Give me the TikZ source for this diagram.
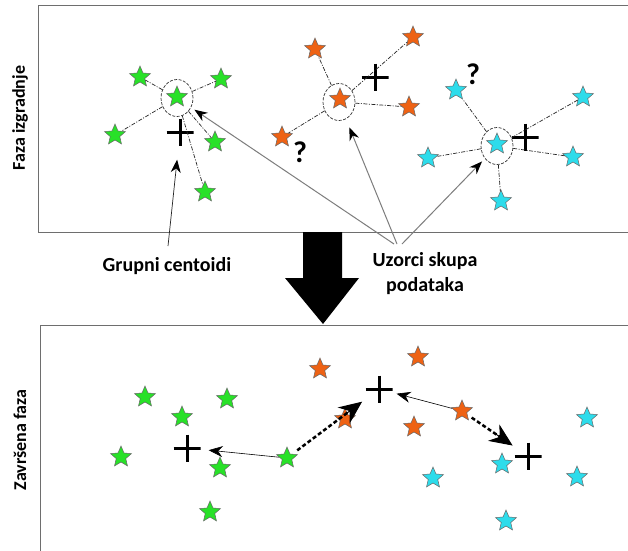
\documentclass[tikz,border=0pt]{standalone}
\usepackage{fontspec}
\setmainfont{Carlito}
\usetikzlibrary{shapes.geometric,arrows.meta,calc}
\definecolor{stgreen}{RGB}{40,225,40}
\definecolor{storange}{RGB}{238,98,20}
\definecolor{stcyan}{RGB}{45,220,235}
\definecolor{boxgray}{RGB}{110,110,110}
\definecolor{arrgray}{RGB}{125,125,125}
\tikzset{
  st/.style={star, star points=5, star point ratio=2.2, minimum size=22pt, inner sep=0pt, draw=black!60, line width=0.5pt},
  gst/.style={st, fill=stgreen},
  ost/.style={st, fill=storange},
  cst/.style={st, fill=stcyan},
  ring/.style={ellipse, draw=black!80, line width=0.7pt, dash pattern=on 3pt off 1.5pt, minimum width=32pt, minimum height=37pt, inner sep=0pt},
  link/.style={draw=black!85, line width=0.7pt, dash pattern=on 4pt off 1.5pt on 1pt off 1.5pt},
  plus/.style={rectangle, minimum size=27pt, inner sep=0pt,
    path picture={\draw[line width=3pt] (path picture bounding box.north) -- (path picture bounding box.south)
      (path picture bounding box.west) -- (path picture bounding box.east);}},
  qm/.style={font=\bfseries\fontsize{30}{30}\selectfont, inner sep=0pt},
  lbl/.style={font=\bfseries\fontsize{20}{25}\selectfont, align=center, inner sep=0pt},
  vlbl/.style={font=\bfseries\fontsize{18}{20}\selectfont, rotate=90, inner sep=0pt},
  garrow/.style={draw=arrgray, line width=1pt, -{Stealth[black, length=13pt, width=10pt]}},
  barrow/.style={draw=black!85, line width=0.7pt, -{Stealth[black, length=13pt, width=10pt]}},
  tarrow/.style={draw=black, line width=0.6pt, -{Stealth[black, length=14pt, width=11pt]}},
  dline/.style={draw=black, line width=2.5pt, dash pattern=on 4pt off 2.5pt},
  dhead/.style={draw=black, solid, line width=1pt, -{Stealth[black, length=23pt, width=20pt]}},
  panel/.style={draw=boxgray, line width=1pt}
}
\begin{document}
\begin{tikzpicture}[x=1pt,y=-1pt]
\useasboundingbox (0,0) rectangle (628,550);
\fill[white] (0,0) rectangle (628,550);
% panels
\draw[panel] (632,5) -- (38,5) -- (38,232) -- (632,232);
\draw[panel] (632,325) -- (40,325) -- (40,555);
\node[vlbl] (lab1) at (20,118) {Faza izgradnje};
\node[vlbl] (lab2) at (20,440) {Završena faza};
% big arrow
\fill[black] (303,232) -- (342,232) -- (342,278) -- (359,278) -- (323,324) -- (285,278) -- (303,278) -- cycle;
% ---------- top panel ----------
% green cluster
\node[ring] (gring) at (177,98) {};
\node[gst] (g0) at (177,97) {};
\node[gst] (g1) at (140,77) {};
\node[gst] (g2) at (221,79) {};
\node[gst] (g3) at (115,135) {};
\node[gst] (g4) at (215,142) {};
\node[gst] (g5) at (205,192) {};
\node[plus] (gplus) at (180,132) {};
\foreach \s in {g1,g2,g3,g4,g5} \draw[link] (gring) -- (\s);
% orange cluster
\node[ring] (oring) at (339,102) {};
\node[ost] (o0) at (340,99) {};
\node[ost] (o1) at (315,49) {};
\node[ost] (o2) at (413,37) {};
\node[ost] (o3) at (409,107) {};
\node[ost] (o4) at (282,137) {};
\node[plus] (oplus) at (375,77) {};
\foreach \s in {o1,o2,o3,o4} \draw[link] (oring) -- (\s);
% cyan cluster
\node[ring] (cring) at (497,146) {};
\node[cst] (c0) at (497,144) {};
\node[cst] (c1) at (456,90) {};
\node[cst] (c2) at (583,97) {};
\node[cst] (c3) at (428,158) {};
\node[cst] (c4) at (573,157) {};
\node[cst] (c5) at (501,201) {};
\node[plus] (cplus) at (525,137) {};
\foreach \s in {c1,c2,c3,c4,c5} \draw[link] (cring) -- (\s);
% question marks
\node[qm] (q1) at (300,152) {?};
\node[qm] (q2) at (473,74) {?};
% labels
\node[lbl] (grupni) at (167,266) {Grupni centoidi};
\node[lbl] (uzorci) at (425,274) {Uzorci skupa\\podataka};
\coordinate (gtop) at (168,246);
\coordinate (u1) at (394,244);
\coordinate (u2) at (397,244);
\coordinate (u3) at (402,244);
\draw[barrow, shorten >=14pt] (gtop) -- (gplus);
\draw[garrow, shorten >=4pt] (u1) -- (gring);
\draw[garrow, shorten >=9pt] (u2) -- (oring);
\draw[garrow, shorten >=4pt] (u3) -- (cring);
% ---------- bottom panel ----------
\node[gst] (b1) at (145,397) {};
\node[gst] (b2) at (227,399) {};
\node[gst] (b3) at (182,417) {};
\node[gst] (b4) at (121,457) {};
\node[gst] (b5) at (287,458) {};
\node[gst] (b6) at (220,468) {};
\node[gst] (b7) at (210,512) {};
\node[plus] (bgplus) at (187,448) {};
\node[ost] (bo1) at (320,369) {};
\node[ost] (bo2) at (418,357) {};
\node[ost] (bo3) at (345,419) {};
\node[ost] (bo4) at (414,427) {};
\node[ost] (bo5) at (462,411) {};
\node[plus] (boplus) at (379,389) {};
\node[cst] (bc1) at (587,418) {};
\node[cst] (bc2) at (502,464) {};
\node[cst] (bc3) at (433,478) {};
\node[cst] (bc4) at (577,477) {};
\node[cst] (bc5) at (506,521) {};
\node[plus] (bcplus) at (528,456) {};
\draw[tarrow, shorten >=8pt] (b5) -- (bgplus);
\draw[tarrow, shorten >=4pt] (bo5) -- (boplus);
\draw[dline, shorten <=6pt, shorten >=18pt] (b5) -- (boplus);
\draw[dhead, shorten >=4pt] ($(b5)!0.65!(boplus)$) -- (boplus);
\draw[dline, shorten <=5pt, shorten >=16pt] (bo5) -- (bcplus);
\draw[dhead, shorten >=2pt] ($(bo5)!0.5!(bcplus)$) -- (bcplus);
\end{tikzpicture}
\end{document}
